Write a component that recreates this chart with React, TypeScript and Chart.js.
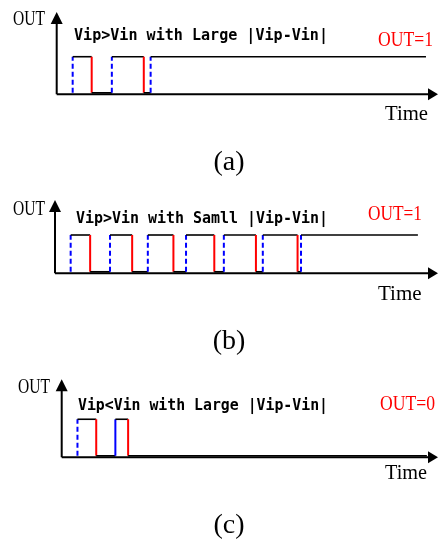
import React, { useEffect, useRef } from "react";
import { Chart, registerables } from "chart.js";
Chart.register(...registerables);

// ---- data (time in arbitrary units 0..100, OUT level) ----
const HIGH = 1;
const LOW = 0.04;

// panel (a): Vip>Vin with large |Vip-Vin|
const riseA = [4.2, 14.5, 24.7];
const riseDashedA = [true, true, true];
const fallA = [9.2, 22.9];
const endA = 97.1;

// panel (b): Vip>Vin with small |Vip-Vin|
const riseB = [4.1, 14.4, 24.3, 34.3, 44.2, 54.4, 64.4];
const riseDashedB = [true, true, true, true, true, true, true];
const fallB = [9.2, 20.2, 31.0, 41.7, 52.6, 63.5];
const endB = 95.0;

// panel (c): Vip<Vin with large |Vip-Vin|
const riseC = [4.2, 14.3];
const riseDashedC = [true, false];
const fallC = [9.2, 17.7];
const endC = 97.3;

const titles = [
  "Vip>Vin with Large |Vip-Vin|",
  "Vip>Vin with Samll |Vip-Vin|",
  "Vip<Vin with Large |Vip-Vin|",
];
const outLabels = ["OUT=1", "OUT=1", "OUT=0"];
const captions = ["(a)", "(b)", "(c)"];
const yAxisLabel = "OUT";
const xAxisLabel = "Time";

type Ev = { t: number; up: boolean; dashed: boolean };

function buildSignal(rise: number[], dashed: boolean[], fall: number[], end: number) {
  const events: Ev[] = [
    ...rise.map((t, i) => ({ t, up: true, dashed: dashed[i] })),
    ...fall.map((t) => ({ t, up: false, dashed: false })),
  ].sort((a, b) => a.t - b.t);
  const pts: { x: number; y: number }[] = [];
  const styles: string[] = [];
  let level = LOW;
  events.forEach((e) => {
    if (pts.length) styles.push("h");
    pts.push({ x: e.t, y: level });
    const nl = e.up ? HIGH : LOW;
    styles.push(e.up ? (e.dashed ? "upDash" : "up") : "down");
    pts.push({ x: e.t, y: nl });
    level = nl;
  });
  styles.push("h");
  pts.push({ x: end, y: level });
  return { pts, styles };
}

type Layout = {
  pad: { left: number; right: number; top: number; bottom: number };
  ymax: number;
  out: { x: number; y: number; w: number };
  time: { x: number; y: number; w: number };
  title: { x: number; y: number; w: number };
  outEq: { x: number; y: number; w: number };
  cap: { y: number };
};

const layouts: Layout[] = [
  {
    pad: { left: 56.7, right: 1, top: 12, bottom: 85.7 },
    ymax: 2.19,
    out: { x: 13, y: 25, w: 32 },
    time: { x: 385, y: 120, w: 43 },
    title: { x: 74, y: 40, w: 254 },
    outEq: { x: 378, y: 45.7, w: 55 },
    cap: { y: 170 },
  },
  {
    pad: { left: 55, right: 1, top: 20, bottom: 86.7 },
    ymax: 1.914,
    out: { x: 13, y: 35, w: 32 },
    time: { x: 378, y: 120, w: 44 },
    title: { x: 76, y: 42.5, w: 252 },
    outEq: { x: 368, y: 40, w: 54 },
    cap: { y: 169 },
  },
  {
    pad: { left: 61.7, right: 1, top: 19.3, bottom: 82.7 },
    ymax: 2.05,
    out: { x: 18, y: 33, w: 32 },
    time: { x: 385, y: 119, w: 42 },
    title: { x: 78, y: 49.5, w: 250 },
    outEq: { x: 380, y: 50, w: 55 },
    cap: { y: 173 },
  },
];

const signals = [
  buildSignal(riseA, riseDashedA, fallA, endA),
  buildSignal(riseB, riseDashedB, fallB, endB),
  buildSignal(riseC, riseDashedC, fallC, endC),
];

const W = 438;
const H = 180;

function Panel({ idx }: { idx: number }) {
  const ref = useRef<HTMLCanvasElement | null>(null);
  useEffect(() => {
    const canvas = ref.current;
    if (!canvas) return;
    const lay = layouts[idx];
    const sig = signals[idx];

    const axesPlugin = {
      id: "axes" + idx,
      beforeDatasetsDraw(chart: any) {
        const { ctx, chartArea } = chart;
        const l = chartArea.left;
        const b = chartArea.bottom;
        const t = chartArea.top;
        const tipX = chart.width;
        ctx.save();
        ctx.strokeStyle = "#000";
        ctx.fillStyle = "#000";
        ctx.lineWidth = 2;
        ctx.beginPath();
        ctx.moveTo(l, b);
        ctx.lineTo(tipX - 8, b);
        ctx.moveTo(l, b);
        ctx.lineTo(l, t + 10);
        ctx.stroke();
        ctx.beginPath();
        ctx.moveTo(tipX, b);
        ctx.lineTo(tipX - 10, b - 6);
        ctx.lineTo(tipX - 10, b + 6);
        ctx.closePath();
        ctx.fill();
        ctx.beginPath();
        ctx.moveTo(l, t);
        ctx.lineTo(l - 6, t + 12);
        ctx.lineTo(l + 6, t + 12);
        ctx.closePath();
        ctx.fill();
        ctx.restore();
      },
      afterDraw(chart: any) {
        const { ctx } = chart;
        ctx.save();
        ctx.textBaseline = "alphabetic";
        ctx.textAlign = "left";
        ctx.fillStyle = "#000";
        ctx.font = '21px "Liberation Serif"';
        ctx.fillText(yAxisLabel, lay.out.x, lay.out.y, lay.out.w);
        ctx.fillText(xAxisLabel, lay.time.x, lay.time.y, lay.time.w);
        ctx.fillStyle = "#ff0000";
        ctx.fillText(outLabels[idx], lay.outEq.x, lay.outEq.y, lay.outEq.w);
        ctx.fillStyle = "#000";
        ctx.font = 'bold 16px "DejaVu Sans Mono"';
        ctx.fillText(titles[idx], lay.title.x, lay.title.y, lay.title.w);
        ctx.font = '28px "Liberation Serif"';
        ctx.textAlign = "center";
        ctx.fillText(captions[idx], W / 2 + 10, lay.cap.y);
        ctx.restore();
      },
    };

    const styleOf = (ctx: any) => sig.styles[ctx.p0DataIndex];

    const chart = new Chart(canvas, {
      type: "line",
      data: {
        datasets: [
          {
            data: sig.pts,
            borderColor: "#000",
            borderWidth: 2,
            pointRadius: 0,
            tension: 0,
            fill: false,
            clip: false as any,
            segment: {
              borderColor: (c: any) => {
                const s = styleOf(c);
                if (s === "down") return "#ff0000";
                if (s === "up" || s === "upDash") return "#0000ff";
                return "#000000";
              },
              borderDash: (c: any) => (styleOf(c) === "upDash" ? [5, 3] : []),
              borderWidth: (c: any) => (styleOf(c) === "h" ? 1.6 : 2),
            },
          } as any,
        ],
      },
      options: {
        animation: false,
        responsive: false,
        devicePixelRatio: 1,
        layout: { padding: lay.pad },
        scales: {
          x: { type: "linear", min: 0, max: 100, display: false },
          y: { type: "linear", min: 0, max: lay.ymax, display: false },
        },
        plugins: {
          legend: { display: false },
          tooltip: { enabled: false },
          title: { display: false },
        },
      },
      plugins: [axesPlugin],
    });
    return () => chart.destroy();
  }, [idx]);
  return <canvas ref={ref} width={W} height={H} style={{ display: "block", width: W, height: H }} />;
}

export default function App() {
  return (
    <div style={{ position: "absolute", left: 0, top: 0, width: W, height: 540, background: "#fff" }}>
      <Panel idx={0} />
      <Panel idx={1} />
      <Panel idx={2} />
    </div>
  );
}
